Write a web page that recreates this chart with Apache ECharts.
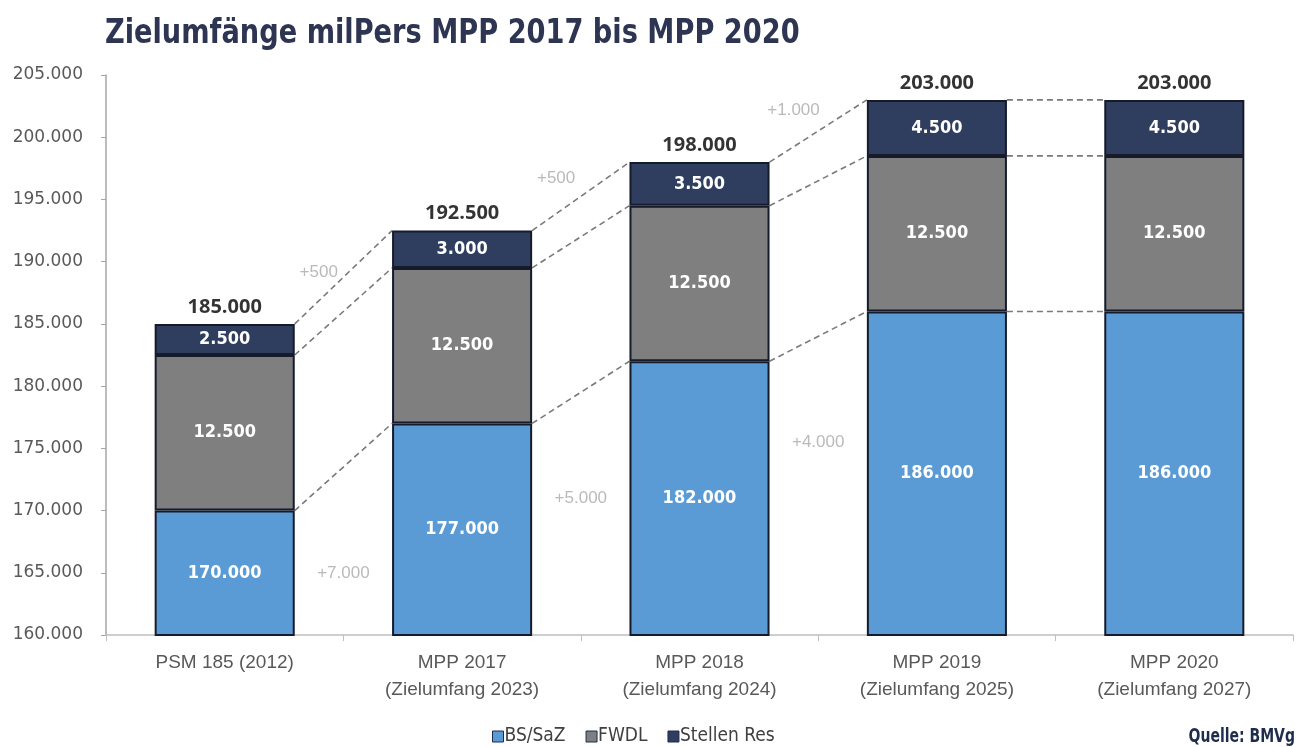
<!DOCTYPE html>
<html>
<head>
<meta charset="utf-8">
<script src="https://cdn.jsdelivr.net/npm/echarts@6/dist/echarts.min.js"></script>
<style>html,body{margin:0;padding:0;background:#fff}#c{width:1298px;height:747px}</style>
</head>
<body>
<div id="c"></div>
<script>
const categories = ['PSM 185 (2012)', 'MPP 2017\n(Zielumfang 2023)', 'MPP 2018\n(Zielumfang 2024)', 'MPP 2019\n(Zielumfang 2025)', 'MPP 2020\n(Zielumfang 2027)'];
const bsSaz = [170000, 177000, 182000, 186000, 186000];
const fwdl = [12500, 12500, 12500, 12500, 12500];
const stellenRes = [2500, 3000, 3500, 4500, 4500];
const seriesNames = ['BS/SaZ', 'FWDL', 'Stellen Res'];
const titleText = 'Zielumfänge milPers MPP 2017 bis MPP 2020';
const sourceText = 'Quelle: BMVg';
const yMin = 160000, yMax = 205000, yStep = 5000;

const fmt = v => String(Math.round(v)).replace(/\B(?=(\d{3})+(?!\d))/g, '.');
const totals = bsSaz.map((v, i) => v + fwdl[i] + stellenRes[i]);
const n = categories.length;
const barFrac = 0.59;

const condensed = "'DejaVu Sans Condensed', 'DejaVu Sans', sans-serif";
const sans = "'DejaVu Sans', 'Liberation Sans', sans-serif";
const colors = ['#5b9bd5', '#7f7f7f', '#2f3d5e'];

// connectors
const levels = [bsSaz, bsSaz.map((v, i) => v + fwdl[i]), totals];
const connectorSeries = [];
for (let i = 0; i < n - 1; i++) {
  const x1 = i + 0.5 + barFrac / 2, x2 = i + 1.5 - barFrac / 2;
  levels.forEach(lv => {
    connectorSeries.push({
      type: 'line', xAxisIndex: 1, yAxisIndex: 0, silent: true, symbol: 'none',
      data: [[x1, lv[i]], [x2, lv[i + 1]]],
      lineStyle: { color: '#7a7a7a', width: 1.6, type: [6, 4] }, z: 1
    });
  });
}
// delta annotations
const resDeltaPts = [], bsDeltaPts = [];
for (let i = 0; i < n - 1; i++) {
  const dRes = stellenRes[i + 1] - stellenRes[i];
  const dBs = bsSaz[i + 1] - bsSaz[i];
  if (dRes !== 0) resDeltaPts.push({ value: [i + 0.5 + barFrac / 2, totals[i]], d: dRes });
  if (dBs !== 0) bsDeltaPts.push({ value: [i + 1, (bsSaz[i] + bsSaz[i + 1]) / 2], d: dBs });
}
const deltaLabel = (offset) => ({
  show: true, position: 'inside', offset: offset,
  formatter: p => '+' + fmt(p.data.d),
  color: '#a9a9a9', fontSize: 17, fontFamily: "'Liberation Sans', Arial, sans-serif"
});

const innerLabel = {
  show: true, position: 'inside', formatter: p => fmt(p.value),
  color: '#ffffff', fontSize: 18, fontWeight: 'bold', fontFamily: condensed
};
const barItem = c => ({ color: c, borderColor: '#151b2b', borderWidth: 2 });

const chart = echarts.init(document.getElementById('c'), null, { renderer: 'canvas' });
chart.setOption({
  animation: false,
  graphic: [
    { type: 'text', x: 105, y: 34, scaleX: 0.89, silent: true,
      style: { text: titleText, font: "bold 34px 'DejaVu Sans Condensed', 'DejaVu Sans', sans-serif",
        fill: '#2e3553', align: 'left', verticalAlign: 'middle' } },
    { type: 'text', x: 1295, y: 737, scaleX: 0.82, silent: true,
      style: { text: sourceText, font: "bold 19px 'DejaVu Sans Condensed', 'DejaVu Sans', sans-serif",
        fill: '#1f2d4d', align: 'right', verticalAlign: 'middle' } }
  ],
  legend: {
    data: seriesNames, left: 492, top: 727, padding: 0, itemWidth: 11, itemHeight: 11, itemGap: 20,
    icon: 'rect',
    itemStyle: { borderColor: '#1f2d4d', borderWidth: 1 },
    textStyle: { fontFamily: condensed, fontSize: 19, color: '#404040', padding: [0, 0, 0, -4] }
  },
  grid: { left: 106, right: 5, top: 75, bottom: 112, containLabel: false },
  xAxis: [
    { type: 'category', data: categories,
      axisLine: { lineStyle: { color: '#bfbfbf', width: 1.5 } },
      axisTick: { show: true, alignWithLabel: false, length: 6, lineStyle: { color: '#bfbfbf' } },
      axisLabel: { color: '#595959', fontSize: 19, lineHeight: 27, margin: 14,
        fontFamily: "'Liberation Sans', Arial, sans-serif" } },
    { type: 'value', min: 0, max: n, show: false }
  ],
  yAxis: {
    type: 'value', min: yMin, max: yMax, interval: yStep,
    splitLine: { show: false },
    axisLine: { show: true, lineStyle: { color: '#a6a6a6', width: 1.5 } },
    axisTick: { show: true, length: 5, lineStyle: { color: '#a6a6a6' } },
    axisLabel: { formatter: v => fmt(v), color: '#595959', fontSize: 17, margin: 23, fontFamily: sans }
  },
  series: [
    { name: seriesNames[0], type: 'bar', stack: 's', data: bsSaz, barWidth: (barFrac * 100) + '%',
      itemStyle: barItem(colors[0]), label: innerLabel, z: 3 },
    { name: seriesNames[1], type: 'bar', stack: 's', data: fwdl,
      itemStyle: barItem(colors[1]), label: innerLabel, z: 3 },
    { name: seriesNames[2], type: 'bar', stack: 's', data: stellenRes,
      itemStyle: barItem(colors[2]), label: innerLabel, z: 3 },
    { name: 'Gesamt', type: 'scatter', data: totals, symbolSize: 0, silent: true,
      label: { show: true, position: 'top', distance: 7, formatter: p => fmt(p.value),
        color: '#000', fontSize: 20, fontWeight: 'bold', fontFamily: "'Open Sans', sans-serif" }, z: 5 },
    { name: 'dRes', type: 'scatter', xAxisIndex: 1, data: resDeltaPts, symbolSize: 0, silent: true,
      label: deltaLabel([24, -52]), z: 5 },
    { name: 'dBs', type: 'scatter', xAxisIndex: 1, data: bsDeltaPts, symbolSize: 0, silent: true,
      label: deltaLabel([0, 106]), z: 5 },
    ...connectorSeries
  ]
});
</script>
</body>
</html>
